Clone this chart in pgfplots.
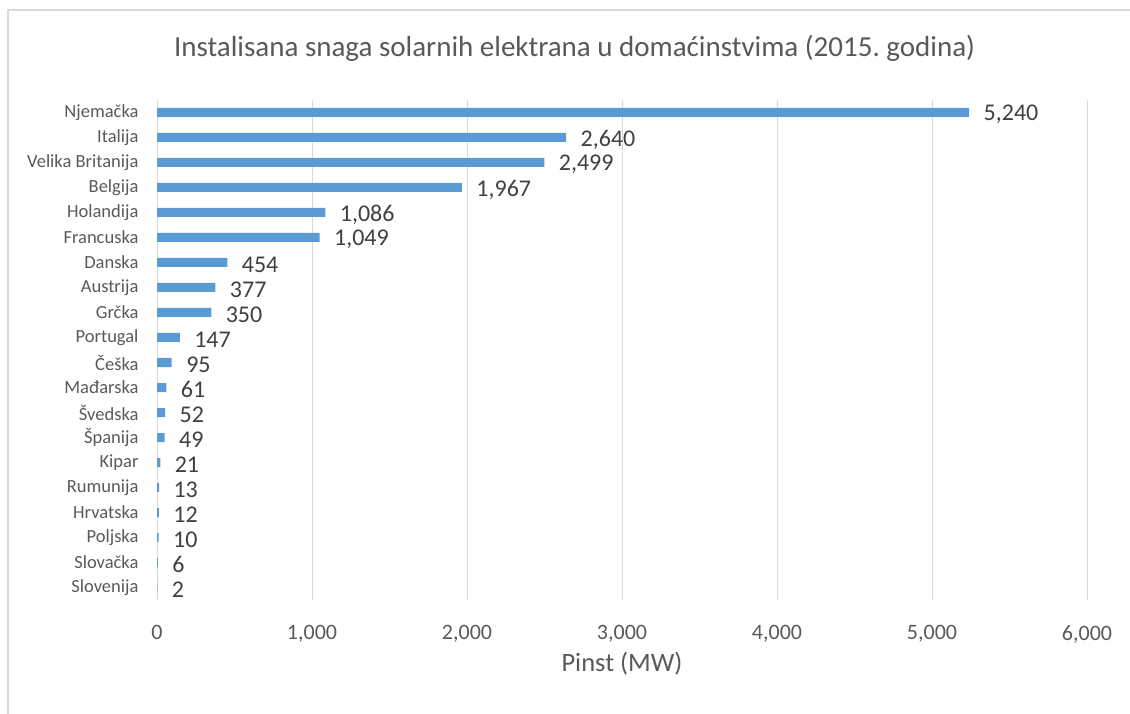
\documentclass[border=0pt]{standalone}
\usepackage{pgfplots}
\pgfplotsset{compat=1.18}
\usepackage{pgfplotstable}
\usepackage{fontspec}
\setmainfont{Carlito}
\frenchspacing
\definecolor{barblue}{HTML}{5B9BD5}
\definecolor{gridgray}{HTML}{D9D9D9}
\definecolor{txtgray}{HTML}{595959}
\definecolor{valgray}{HTML}{404040}
\definecolor{framegray}{HTML}{D9D9D9}
\pgfplotstableread{
y val
0 2
1 6
2 10
3 12
4 13
5 21
6 49
7 52
8 61
9 95
10 147
11 350
12 377
13 454
14 1049
15 1086
16 1967
17 2499
18 2640
19 5240
}\datatable
\begin{document}
\begin{tikzpicture}[x=1pt,y=1pt]
\draw[framegray, line width=1.5pt] (8,-5) -- (8,703) -- (1140,703);
\begin{axis}[
  at={(157pt,113pt)}, anchor=south west,
  scale only axis, width=930pt, height=500pt,
  xbar, bar width=9pt,
  xmin=0, xmax=6000,
  ymin=-0.5, ymax=19.5,
  xtick={0,1000,...,6000},
  ytick={0,...,19},
  yticklabels={Slovenija,Slovačka,Poljska,Hrvatska,Rumunija,Kipar,Španija,Švedska,Mađarska,Češka,Portugal,Grčka,Austrija,Danska,Francuska,Holandija,Belgija,Velika Britanija,Italija,Njemačka},
  axis line style={draw=none},
  major tick length=0pt,
  xmajorgrids, major grid style={gridgray, line width=1pt},
  /pgf/number format/assume math mode=true,
  /pgf/number format/.cd, 1000 sep={,}, fixed, precision=0, /pgfplots/.cd,
  xticklabel style={font=\fontsize{22}{24}\selectfont, text=txtgray, yshift=-22pt},
  yticklabel style={font=\fontsize{18.5}{20}\selectfont, text=txtgray, xshift=-15pt},
  nodes near coords,
  nodes near coords style={font=\fontsize{24}{26}\selectfont, text=valgray, anchor=west, xshift=11pt, yshift=-2pt},
  title={Instalisana snaga solarnih elektrana u domaćinstvima (2015. godina)},
  title style={font=\fontsize{29}{31}\selectfont, text=txtgray, at={(rel axis cs:0.449,1.092)}, anchor=center},
  xlabel={Pinst (MW)},
  xlabel style={font=\fontsize{26.5}{28}\selectfont, text=txtgray, at={(rel axis cs:0.5,-0.128)}, anchor=center},
]
\addplot[fill=barblue, draw=none] table[x=val, y=y] {\datatable};
\end{axis}
\pgfresetboundingbox
\useasboundingbox (0,0) rectangle (1130,713);
\end{tikzpicture}
\end{document}
